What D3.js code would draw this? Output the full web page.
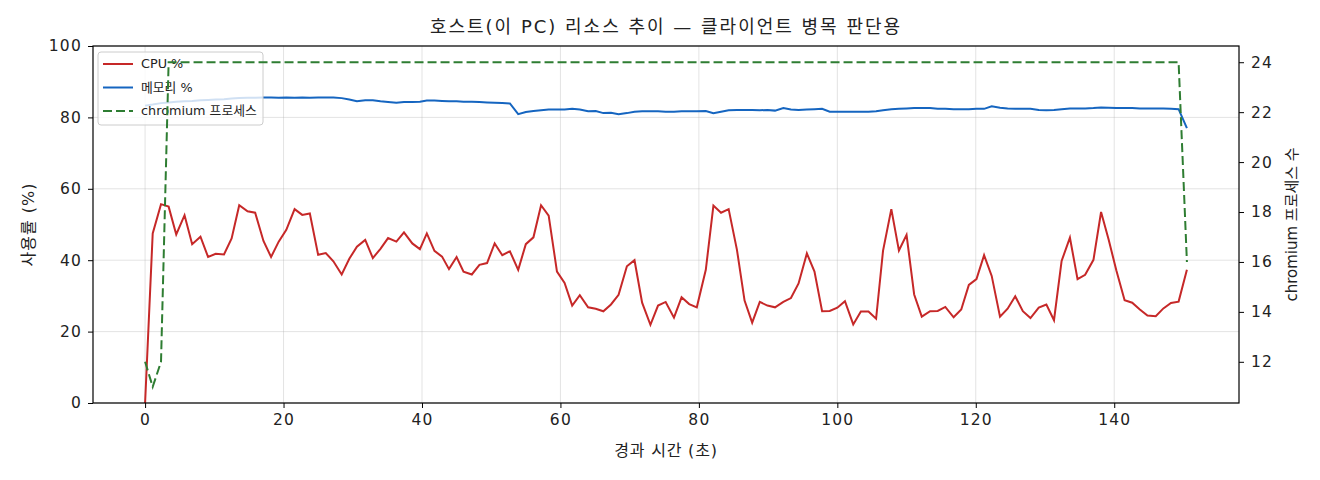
<!DOCTYPE html>
<html>
<head>
<meta charset="utf-8">
<script src="https://cdn.jsdelivr.net/npm/d3@7"></script>
<style>
  body { margin: 0; background: #fff; }
  svg text { font-family: "DejaVu Sans", "Noto Sans CJK KR", sans-serif; fill: #222; }
</style>
</head>
<body>
<div id="chart"></div>
<script>
// elapsed seconds of each sample
const times = [
  0, 1.1, 2.3, 3.4, 4.5, 5.7, 6.8, 8.0, 9.1, 10.2, 11.4, 12.5, 13.6, 14.8, 15.9,
  17.1, 18.2, 19.3, 20.4, 21.6, 22.7, 23.8, 25.0, 26.1, 27.2, 28.4, 29.5, 30.6, 31.8, 32.9,
  34.0, 35.1, 36.3, 37.4, 38.6, 39.7, 40.7, 41.8, 42.9, 43.9, 45.0, 46.0, 47.2, 48.3, 49.4,
  50.5, 51.6, 52.7, 53.9, 55.0, 56.1, 57.2, 58.3, 59.5, 60.6, 61.7, 62.8, 64.0, 65.1, 66.2,
  67.3, 68.4, 69.6, 70.7, 71.8, 73.0, 74.1, 75.2, 76.4, 77.5, 78.6, 79.7, 81.0, 82.1, 83.2,
  84.3, 85.5, 86.6, 87.7, 88.8, 89.9, 91.0, 92.2, 93.3, 94.4, 95.6, 96.7, 97.8, 98.9, 100.0,
  101.1, 102.3, 103.4, 104.5, 105.6, 106.6, 107.8, 108.9, 110.0, 111.1, 112.2, 113.4, 114.5, 115.6, 116.8,
  117.9, 119.0, 120.1, 121.2, 122.3, 123.5, 124.6, 125.7, 126.8, 127.9, 129.1, 130.2, 131.3, 132.4, 133.6,
  134.7, 135.8, 137.0, 138.1, 139.2, 140.3, 141.5, 142.6, 143.7, 144.8, 146.0, 147.1, 148.2, 149.3, 150.5
];

const cpu = [
  0, 47.5, 55.7, 55.0, 47.2, 52.6, 44.5, 46.6, 40.9, 41.8, 41.6, 46.1, 55.4, 53.7, 53.3,
  45.4, 40.9, 45.2, 48.5, 54.3, 52.7, 53.1, 41.5, 42.0, 39.7, 36.0, 40.4, 43.8, 45.7, 40.6,
  43.2, 46.2, 45.2, 47.8, 44.7, 43.1, 47.5, 42.6, 41.0, 37.5, 40.9, 36.8, 36.0, 38.7, 39.2,
  44.7, 41.4, 42.5, 37.3, 44.5, 46.4, 55.4, 52.5, 36.8, 33.6, 27.3, 30.2, 26.8, 26.4, 25.7,
  27.6, 30.3, 38.3, 40.0, 28.1, 21.9, 27.3, 28.3, 23.9, 29.6, 27.7, 26.8, 37.3, 55.3, 53.3,
  54.3, 42.9, 28.7, 22.5, 28.3, 27.3, 26.8, 28.3, 29.4, 33.5, 41.9, 36.8, 25.7, 25.8, 26.7,
  28.5, 22.0, 25.6, 25.6, 23.6, 42.6, 54.3, 42.7, 47.1, 30.4, 24.2, 25.7, 25.8, 26.9, 24.0,
  26.2, 33.1, 34.7, 41.4, 35.6, 24.2, 26.4, 29.9, 25.7, 23.8, 26.7, 27.6, 23.2, 39.8, 46.3,
  34.7, 35.9, 40.1, 53.5, 45.7, 37.2, 28.8, 28.1, 26.2, 24.5, 24.3, 26.5, 28.0, 28.4, 37.3
];

const memory = [
  83.3, 83.6, 84.0, 84.2, 84.4, 84.5, 84.6, 84.8, 84.9, 85.0, 85.1, 85.3, 85.4, 85.5, 85.5,
  85.6, 85.6, 85.5, 85.6, 85.5, 85.6, 85.5, 85.6, 85.6, 85.6, 85.4, 85.0, 84.5, 84.8, 84.8,
  84.5, 84.3, 84.1, 84.3, 84.3, 84.4, 84.7, 84.7, 84.6, 84.5, 84.5, 84.4, 84.4, 84.3, 84.2,
  84.1, 84.0, 83.9, 80.9, 81.5, 81.8, 82.0, 82.2, 82.2, 82.2, 82.4, 82.2, 81.7, 81.8, 81.2,
  81.3, 80.9, 81.2, 81.6, 81.7, 81.7, 81.7, 81.6, 81.6, 81.7, 81.7, 81.7, 81.8, 81.2, 81.6,
  82.0, 82.1, 82.1, 82.1, 82.0, 82.1, 81.9, 82.6, 82.2, 82.1, 82.2, 82.3, 82.4, 81.6, 81.6,
  81.6, 81.6, 81.6, 81.6, 81.7, 82.0, 82.3, 82.4, 82.5, 82.6, 82.6, 82.6, 82.4, 82.4, 82.3,
  82.3, 82.3, 82.4, 82.4, 83.1, 82.7, 82.5, 82.4, 82.4, 82.4, 82.1, 82.0, 82.1, 82.3, 82.5,
  82.5, 82.5, 82.6, 82.8, 82.7, 82.6, 82.6, 82.6, 82.5, 82.5, 82.5, 82.5, 82.4, 82.3, 77.0
];

const chromium = [
  12, 11, 12, 24, 24, 24, 24, 24, 24, 24, 24, 24, 24, 24, 24,
  24, 24, 24, 24, 24, 24, 24, 24, 24, 24, 24, 24, 24, 24, 24,
  24, 24, 24, 24, 24, 24, 24, 24, 24, 24, 24, 24, 24, 24, 24,
  24, 24, 24, 24, 24, 24, 24, 24, 24, 24, 24, 24, 24, 24, 24,
  24, 24, 24, 24, 24, 24, 24, 24, 24, 24, 24, 24, 24, 24, 24,
  24, 24, 24, 24, 24, 24, 24, 24, 24, 24, 24, 24, 24, 24, 24,
  24, 24, 24, 24, 24, 24, 24, 24, 24, 24, 24, 24, 24, 24, 24,
  24, 24, 24, 24, 24, 24, 24, 24, 24, 24, 24, 24, 24, 24, 24,
  24, 24, 24, 24, 24, 24, 24, 24, 24, 24, 24, 24, 24, 24, 16
];

const xTicks = [0, 20, 40, 60, 80, 100, 120, 140];
const leftTicks = [0, 20, 40, 60, 80, 100];
const rightTicks = [12, 14, 16, 18, 20, 22, 24];

const title = "호스트(이 PC) 리소스 추이 — 클라이언트 병목 판단용";
const xLabel = "경과 시간 (초)";
const leftLabel = "사용률 (%)";
const rightLabel = "chromium 프로세스 수";
const legendNames = ["CPU %", "메모리 %", "chromium 프로세스"];

const colors = { cpu: "#c62828", mem: "#1565c0", chrome: "#2e7d32" };

const W = 1320, H = 480;
const margin = { top: 46, right: 81, bottom: 77, left: 93 };
const iw = W - margin.left - margin.right,
      ih = H - margin.top - margin.bottom;

const svg = d3.select("#chart").append("svg")
    .attr("width", W).attr("height", H);

const g = svg.append("g")
    .attr("transform", "translate(" + margin.left + "," + margin.top + ")");

// matplotlib style 5% padding on auto-scaled axes
let tMin = d3.min(times), tMax = d3.max(times), tPad = (tMax - tMin) * 0.05;
let x = d3.scaleLinear().domain([tMin - tPad, tMax + tPad]).range([0, iw]);
let yL = d3.scaleLinear().domain([0, 100]).range([ih, 0]);
let cMin = d3.min(chromium), cMax = d3.max(chromium), cPad = (cMax - cMin) * 0.05;
let yR = d3.scaleLinear().domain([cMin - cPad, cMax + cPad]).range([ih, 0]);

// grid
g.append("g").selectAll("line").data(xTicks).enter().append("line")
    .attr("x1", d => x(d)).attr("x2", d => x(d))
    .attr("y1", 0).attr("y2", ih)
    .attr("stroke", "#b0b0b0").attr("stroke-opacity", 0.35);
g.append("g").selectAll("line").data(leftTicks).enter().append("line")
    .attr("x1", 0).attr("x2", iw)
    .attr("y1", d => yL(d)).attr("y2", d => yL(d))
    .attr("stroke", "#b0b0b0").attr("stroke-opacity", 0.35);

// axes
let xAxis = g.append("g")
    .attr("transform", "translate(0," + ih + ")")
    .call(d3.axisBottom(x).tickValues(xTicks).tickSize(5).tickPadding(6));
let lAxis = g.append("g")
    .call(d3.axisLeft(yL).tickValues(leftTicks).tickSize(5).tickPadding(6));
let rAxis = g.append("g")
    .attr("transform", "translate(" + iw + ",0)")
    .call(d3.axisRight(yR).tickValues(rightTicks).tickSize(5).tickPadding(7));
[xAxis, lAxis, rAxis].forEach(a => {
    a.select(".domain").remove();
    a.selectAll(".tick line").attr("stroke", "#000");
    a.selectAll(".tick text")
        .style("font-size", "15.5px").style("letter-spacing", "1.2px")
        .attr("fill", "#222");
});

let lineOf = (ys, scale) => d3.line()
    .x((d, i) => x(times[i]))
    .y(d => scale(d))(ys);

g.append("path").attr("d", lineOf(cpu, yL))
    .attr("fill", "none").attr("stroke", colors.cpu).attr("stroke-width", 2);
g.append("path").attr("d", lineOf(memory, yL))
    .attr("fill", "none").attr("stroke", colors.mem).attr("stroke-width", 2);

// legend (belongs to the left axis, so the chromium line draws over it)
let lg = g.append("g").attr("transform", "translate(5,6)");
lg.append("rect")
    .attr("width", 165).attr("height", 73).attr("rx", 3)
    .attr("fill", "#fff").attr("fill-opacity", 0.8)
    .attr("stroke", "#cccccc");
let items = [
    { name: legendNames[0], color: colors.cpu, dash: null },
    { name: legendNames[1], color: colors.mem, dash: null },
    { name: legendNames[2], color: colors.chrome, dash: "9,4" }
];
items.forEach((it, i) => {
    let yy = 12 + i * 23.5;
    lg.append("line")
        .attr("x1", 5).attr("x2", 35).attr("y1", yy).attr("y2", yy)
        .attr("stroke", it.color).attr("stroke-width", 2)
        .attr("stroke-dasharray", it.dash);
    lg.append("text")
        .attr("x", 43).attr("y", yy).attr("dy", "0.35em")
        .style("font-size", "12.8px").text(it.name);
});

g.append("path").attr("d", lineOf(chromium, yR))
    .attr("fill", "none").attr("stroke", colors.chrome).attr("stroke-width", 2)
    .attr("stroke-dasharray", "9,4");

// frame
g.append("rect").attr("width", iw).attr("height", ih)
    .attr("fill", "none").attr("stroke", "#000").attr("stroke-width", 1.2);

// labels
svg.append("text")
    .attr("x", margin.left + iw / 2).attr("y", 27).attr("dy", "0.35em")
    .attr("text-anchor", "middle").style("font-size", "18px")
    .style("letter-spacing", "2px").text(title);
svg.append("text")
    .attr("x", margin.left + iw / 2).attr("y", 450).attr("dy", "0.35em")
    .attr("text-anchor", "middle").style("font-size", "16px")
    .style("letter-spacing", "0.8px").text(xLabel);
svg.append("text")
    .attr("transform", "translate(28," + (margin.top + ih / 2) + ") rotate(-90)")
    .attr("dy", "0.35em")
    .attr("text-anchor", "middle").style("font-size", "16px")
    .style("letter-spacing", "1px").text(leftLabel);
svg.append("text")
    .attr("transform", "translate(1292," + (margin.top + ih / 2) + ") rotate(-90)")
    .attr("dy", "0.35em")
    .attr("text-anchor", "middle").style("font-size", "15px").text(rightLabel);
</script>
</body>
</html>
